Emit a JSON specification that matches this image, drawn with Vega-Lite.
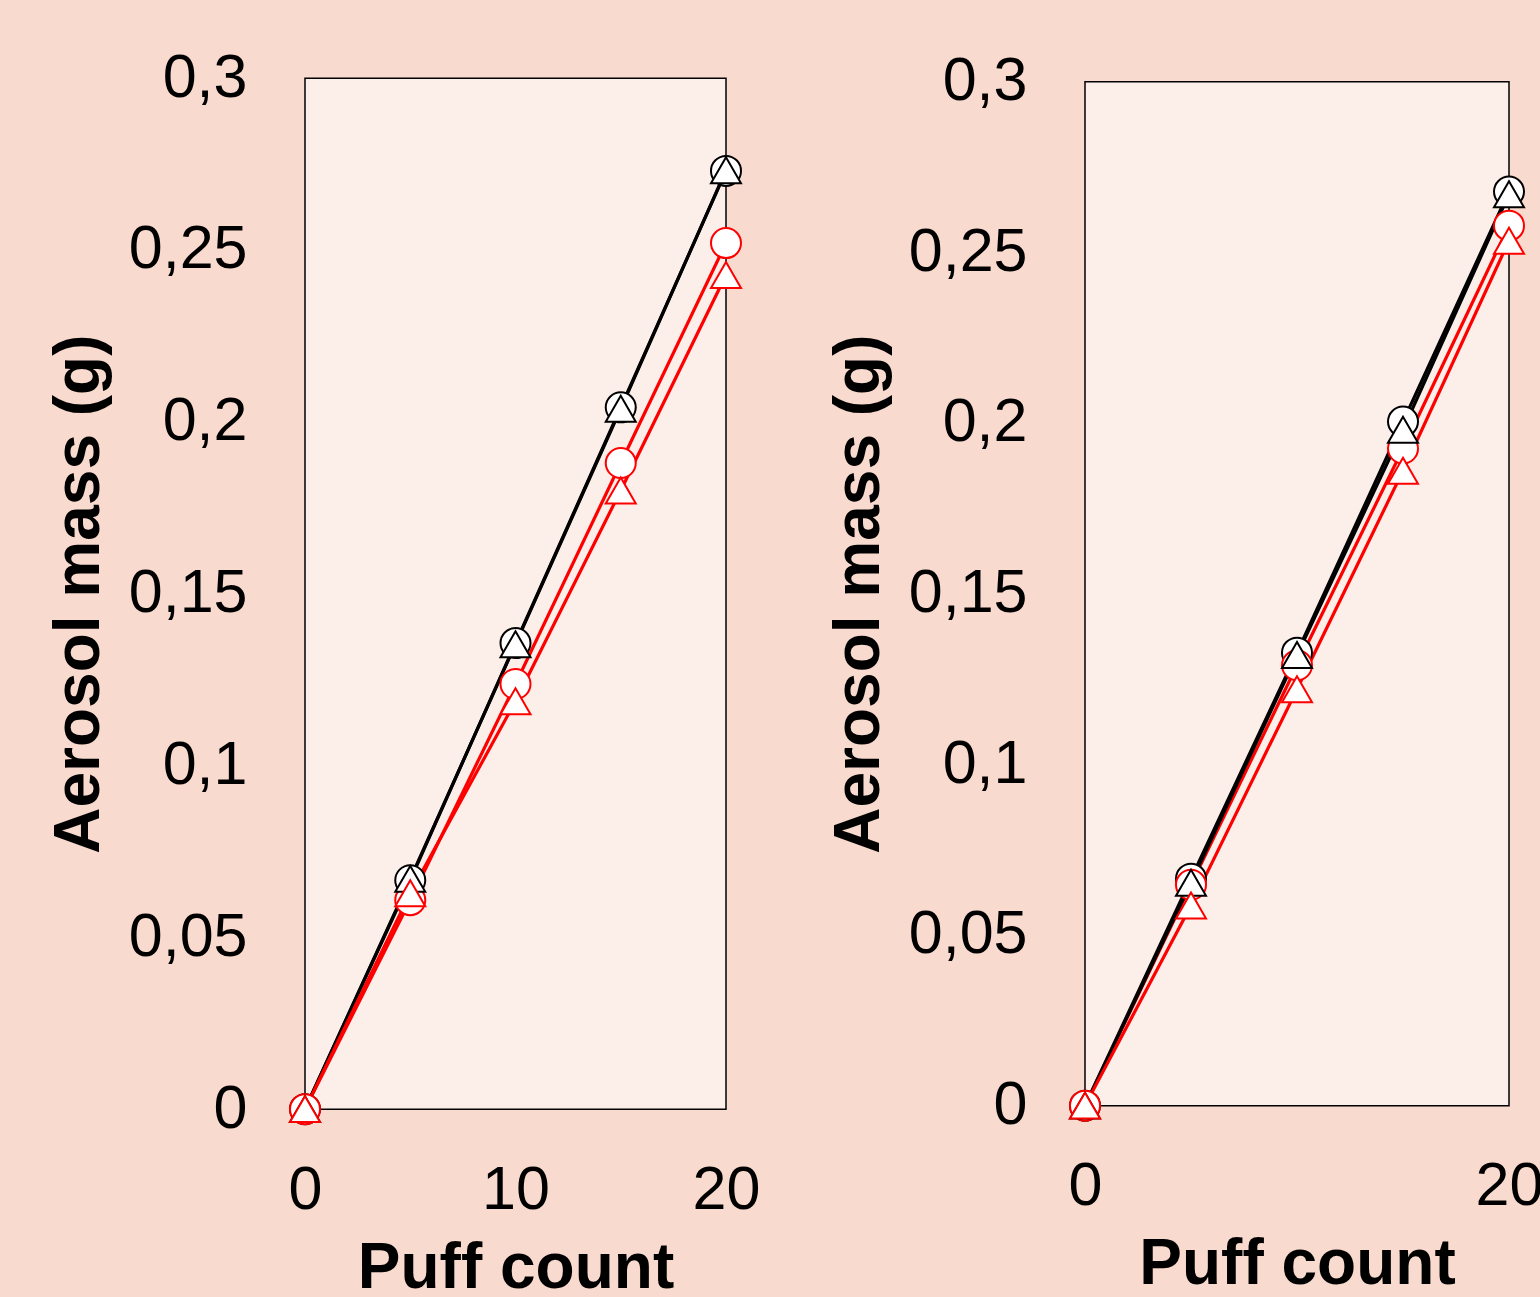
{
  "$schema": "https://vega.github.io/schema/vega-lite/v6.json",
  "background": "#F9DACE",
  "padding": {"left": 46, "top": 46, "right": 0, "bottom": 0},
  "autosize": {"type": "pad"},
  "datasets": {
    "left": [
      {"series": "A", "shape": "circle", "puff": 0, "mass": 0},
      {"series": "A", "shape": "circle", "puff": 5, "mass": 0.0666},
      {"series": "A", "shape": "circle", "puff": 10, "mass": 0.1356},
      {"series": "A", "shape": "circle", "puff": 15, "mass": 0.2042},
      {"series": "A", "shape": "circle", "puff": 20, "mass": 0.273},
      {"series": "C", "shape": "circle", "puff": 0, "mass": 0},
      {"series": "C", "shape": "circle", "puff": 5, "mass": 0.0608},
      {"series": "C", "shape": "circle", "puff": 10, "mass": 0.1237},
      {"series": "C", "shape": "circle", "puff": 15, "mass": 0.188},
      {"series": "C", "shape": "circle", "puff": 20, "mass": 0.252},
      {"series": "B", "shape": "triangle", "puff": 0, "mass": 0},
      {"series": "B", "shape": "triangle", "puff": 5, "mass": 0.067},
      {"series": "B", "shape": "triangle", "puff": 10, "mass": 0.1353},
      {"series": "B", "shape": "triangle", "puff": 15, "mass": 0.2038},
      {"series": "B", "shape": "triangle", "puff": 20, "mass": 0.2732},
      {"series": "D", "shape": "triangle", "puff": 0, "mass": 0},
      {"series": "D", "shape": "triangle", "puff": 5, "mass": 0.0628},
      {"series": "D", "shape": "triangle", "puff": 10, "mass": 0.1187},
      {"series": "D", "shape": "triangle", "puff": 15, "mass": 0.18},
      {"series": "D", "shape": "triangle", "puff": 20, "mass": 0.2427}
    ],
    "right": [
      {"series": "A", "shape": "circle", "puff": 0, "mass": 0},
      {"series": "A", "shape": "circle", "puff": 5, "mass": 0.0665},
      {"series": "A", "shape": "circle", "puff": 10, "mass": 0.1327},
      {"series": "A", "shape": "circle", "puff": 15, "mass": 0.2004},
      {"series": "A", "shape": "circle", "puff": 20, "mass": 0.2678},
      {"series": "C", "shape": "circle", "puff": 0, "mass": 0},
      {"series": "C", "shape": "circle", "puff": 5, "mass": 0.0647},
      {"series": "C", "shape": "circle", "puff": 10, "mass": 0.129},
      {"series": "C", "shape": "circle", "puff": 15, "mass": 0.1925},
      {"series": "C", "shape": "circle", "puff": 20, "mass": 0.2578},
      {"series": "B", "shape": "triangle", "puff": 0, "mass": 0},
      {"series": "B", "shape": "triangle", "puff": 5, "mass": 0.0653},
      {"series": "B", "shape": "triangle", "puff": 10, "mass": 0.132},
      {"series": "B", "shape": "triangle", "puff": 15, "mass": 0.198},
      {"series": "B", "shape": "triangle", "puff": 20, "mass": 0.267},
      {"series": "D", "shape": "triangle", "puff": 0, "mass": 0},
      {"series": "D", "shape": "triangle", "puff": 5, "mass": 0.0586},
      {"series": "D", "shape": "triangle", "puff": 10, "mass": 0.122},
      {"series": "D", "shape": "triangle", "puff": 15, "mass": 0.186},
      {"series": "D", "shape": "triangle", "puff": 20, "mass": 0.2534}
    ]
  },
  "config": {
    "font": "Liberation Sans",
    "view": {"fill": "#FCEEE9", "stroke": "#000000", "strokeWidth": 1.5},
    "axis": {
      "grid": false,
      "domain": false,
      "ticks": false,
      "labelFont": "Liberation Sans",
      "labelFontSize": 61,
      "labelColor": "#000000",
      "titleFont": "Liberation Sans",
      "titleFontSize": 64,
      "titleFontWeight": "bold",
      "titleColor": "#000000"
    },
    "concat": {"spacing": 65}
  },
  "hconcat": [
    {
      "width": 421,
      "height": 1031,
      "data": {"name": "left"},
      "encoding": {
        "x": {"field": "puff", "type": "quantitative", "scale": {"domain": [0, 20], "nice": false},
              "axis": {"title": "Puff count", "values": [0, 10, 20], "labelPadding": 51, "titlePadding": 16, "labelFlush": false}},
        "y": {"field": "mass", "type": "quantitative", "scale": {"domain": [0, 0.3], "nice": false},
              "axis": {"title": "Aerosol mass (g)", "values": [0, 0.05, 0.1, 0.15, 0.2, 0.25, 0.3], "labelPadding": 58, "titlePadding": 17, "labelFlush": false,
                       "labelExpr": "replace(format(datum.value, '~g'), '.', ',')"}},
        "color": {"field": "series", "type": "nominal", "legend": null,
                  "scale": {"domain": ["A", "B", "C", "D"], "range": ["#000000", "#000000", "#FF0000", "#FF0000"]}}
      },
      "layer": [
        {"mark": {"type": "line", "clip": false},
         "encoding": {"detail": {"field": "series"},
                      "strokeWidth": {"field": "series", "type": "nominal", "legend": null, "scale": {"domain": ["A", "B", "C", "D"], "range": [3.2, 3.2, 2, 2]}}}},
        {"mark": {"type": "point", "filled": false, "fill": "#FFFFFF", "fillOpacity": 1, "opacity": 1, "size": 900, "strokeWidth": 2, "clip": false},
         "encoding": {"shape": {"field": "shape", "type": "nominal", "legend": null, "scale": {"domain": ["circle", "triangle"], "range": ["circle", "triangle-up"]}}}}
      ]
    },
    {
      "width": 424,
      "height": 1024,
      "data": {"name": "right"},
      "encoding": {
        "x": {"field": "puff", "type": "quantitative", "scale": {"domain": [0, 20], "nice": false},
              "axis": {"title": "Puff count", "values": [0, 20], "labelPadding": 51, "titlePadding": 16, "labelFlush": false}},
        "y": {"field": "mass", "type": "quantitative", "scale": {"domain": [0, 0.3], "nice": false},
              "axis": {"title": "Aerosol mass (g)", "values": [0, 0.05, 0.1, 0.15, 0.2, 0.25, 0.3], "labelPadding": 58, "titlePadding": 17, "labelFlush": false,
                       "labelExpr": "replace(format(datum.value, '~g'), '.', ',')"}},
        "color": {"field": "series", "type": "nominal", "legend": null,
                  "scale": {"domain": ["A", "B", "C", "D"], "range": ["#000000", "#000000", "#FF0000", "#FF0000"]}}
      },
      "layer": [
        {"mark": {"type": "line", "clip": false},
         "encoding": {"detail": {"field": "series"},
                      "strokeWidth": {"field": "series", "type": "nominal", "legend": null, "scale": {"domain": ["A", "B", "C", "D"], "range": [3.2, 3.2, 2, 2]}}}},
        {"mark": {"type": "point", "filled": false, "fill": "#FFFFFF", "fillOpacity": 1, "opacity": 1, "size": 900, "strokeWidth": 2, "clip": false},
         "encoding": {"shape": {"field": "shape", "type": "nominal", "legend": null, "scale": {"domain": ["circle", "triangle"], "range": ["circle", "triangle-up"]}}}}
      ]
    }
  ],
  "resolve": {"scale": {"color": "independent", "shape": "independent", "strokeWidth": "independent"}},
  "center": true
}
